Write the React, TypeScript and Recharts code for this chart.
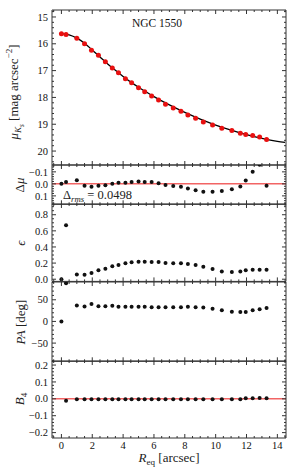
import React from 'react';
import { ComposedChart, Scatter, Line, XAxis, YAxis, ReferenceLine } from 'recharts';

// ---------- data ----------
const radius = [0, 0.3, 1.0, 1.5, 1.95, 2.4, 2.85, 3.3, 3.7, 4.15, 4.55, 5.0, 5.4, 5.85, 6.3, 6.75, 7.25, 7.75, 8.2, 8.7, 9.2, 9.8, 10.4, 11.05, 11.6, 11.95, 12.4, 12.85, 13.3];
const muObs = [15.63, 15.65, 15.79, 16.0, 16.24, 16.43, 16.67, 16.9, 17.08, 17.3, 17.45, 17.64, 17.79, 17.95, 18.1, 18.25, 18.39, 18.52, 18.66, 18.78, 18.92, 19.03, 19.15, 19.23, 19.34, 19.38, 19.42, 19.48, 19.57];
const deltaMu = [0.0, -0.015, -0.03, 0.015, 0.024, 0.015, 0.012, 0.0, -0.009, -0.009, -0.015, -0.02, -0.015, -0.015, -0.005, 0.009, 0.018, 0.024, 0.039, 0.054, 0.066, 0.066, 0.06, 0.045, 0.021, -0.027, -0.1, -0.16, 0.015];
const ellipticity = [0.0, 0.67, 0.06, 0.056, 0.077, 0.11, 0.13, 0.16, 0.177, 0.197, 0.21, 0.218, 0.218, 0.214, 0.214, 0.2, 0.197, 0.197, 0.19, 0.177, 0.155, 0.127, 0.097, 0.09, 0.097, 0.11, 0.118, 0.118, 0.118];
const posAngle = [0, 88, 37, 34.5, 40, 35, 35, 36, 34, 34, 34, 34, 34, 32.5, 32.5, 32.5, 32.5, 33, 34, 33, 32, 29, 26, 22.5, 21.5, 21.5, 26, 28, 31];
const b4 = [null, -0.012, -0.002, -0.002, -0.002, -0.002, -0.002, -0.002, -0.002, -0.002, -0.002, -0.002, -0.002, -0.002, -0.002, -0.002, -0.002, -0.002, -0.002, -0.002, -0.002, -0.002, -0.002, -0.002, -0.002, 0.003, 0.004, 0.005, 0.003];

const modelRadius = [0, 0.5, 1, 1.5, 2, 2.5, 3, 3.5, 4, 4.5, 5, 5.5, 6, 7, 8, 9, 10, 11, 12, 13, 14, 14.5];
const modelMu = [15.62, 15.67, 15.79, 15.98, 16.23, 16.49, 16.75, 16.99, 17.22, 17.43, 17.62, 17.8, 17.97, 18.28, 18.56, 18.81, 19.03, 19.22, 19.39, 19.53, 19.64, 19.68];

const xMajorTicks = [0, 2, 4, 6, 8, 10, 12, 14];
const muMajorTicks = [15, 16, 17, 18, 19, 20];
const dmuMajorTicks = [-0.1, 0, 0.1];
const epsMajorTicks = [0, 0.2, 0.4, 0.6, 0.8];
const paMajorTicks = [-50, 0, 50];
const b4MajorTicks = [-0.2, -0.1, 0, 0.1, 0.2];

const title = 'NGC 1550';
const rmsText = '0.0498';

// ---------- helpers ----------
const FONT = '"Liberation Serif", "Times New Roman", serif';
const TICK = '#333333';
const xDomain: [number, number] = [-0.61, 14.56];

function stepTicks(lo: number, hi: number, step: number): number[] {
  const out: number[] = [];
  const k0 = Math.ceil(lo / step - 1e-9);
  const k1 = Math.floor(hi / step + 1e-9);
  for (let k = k0; k <= k1; k++) out.push(Math.round(k * step * 1e6) / 1e6);
  return out;
}
const isMajor = (majors: number[], v: number) => majors.some((m) => Math.abs(m - v) < 1e-9);
const fmtMinus = (s: string) => s.replace('-', '\u2212');

function xTick(side: 'bottom' | 'top', labels: boolean) {
  return (props: any) => {
    const { x, y, payload } = props;
    const v = payload.value;
    const major = isMajor(xMajorTicks, v);
    const len = major ? 4 : 2;
    const dir = side === 'bottom' ? -1 : 1;
    return (
      <g>
        <line x1={x} y1={y} x2={x} y2={y + dir * len} stroke={TICK} strokeWidth={1} />
        {labels && major && (
          <text x={x} y={y + 11} textAnchor="middle" fontSize={10.5} style={{ fontFamily: FONT }} fill="#111">
            {String(v)}
          </text>
        )}
      </g>
    );
  };
}

function yTick(side: 'left' | 'right', majors: number[], fmt: (v: number) => string) {
  return (props: any) => {
    const { x, y, payload } = props;
    const v = payload.value;
    const major = isMajor(majors, v);
    const len = major ? 4 : 2;
    const dir = side === 'left' ? 1 : -1;
    return (
      <g>
        <line x1={x} y1={y} x2={x + dir * len} y2={y} stroke={TICK} strokeWidth={1} />
        {side === 'left' && major && (
          <text x={x - 4} y={y} dy="0.35em" textAnchor="end" fontSize={10.5} style={{ fontFamily: FONT }} fill="#111">
            {fmtMinus(fmt(v))}
          </text>
        )}
      </g>
    );
  };
}

type PanelProps = {
  top: number;
  height: number;
  domain: [number, number];
  reversed?: boolean;
  majors: number[];
  minorStep: number;
  fmt: (v: number) => string;
  xLabels?: boolean;
  children: React.ReactNode;
};

// top/height describe the plot frame; the chart is grown by 1px on each side
// so the top/bottom x-axes and right y-axis have a non-zero size.
function Panel({ top, height, domain, reversed, majors, minorStep, fmt, xLabels, children }: PanelProps) {
  const xTicks = stepTicks(xDomain[0], xDomain[1], 0.5);
  const yTicks = stepTicks(domain[0], domain[1], minorStep);
  return (
    <div style={{ position: 'absolute', left: 0, top: top - 1, width: 293, height: height + 2 }}>
      <ComposedChart width={293} height={height + 2} margin={{ top: 0, right: 6, bottom: 0, left: 0 }}>
        <XAxis xAxisId="b" dataKey="r" type="number" domain={xDomain} allowDataOverflow ticks={xTicks} interval={0}
          tickSize={0} tickMargin={0} height={1} tickLine={false} axisLine={{ stroke: TICK, strokeWidth: 1 }} stroke={TICK}
          tick={xTick('bottom', !!xLabels)} />
        <XAxis xAxisId="t" orientation="top" dataKey="r" type="number" domain={xDomain} allowDataOverflow ticks={xTicks} interval={0}
          tickSize={0} tickMargin={0} height={1} tickLine={false} axisLine={{ stroke: TICK, strokeWidth: 1 }} stroke={TICK}
          tick={xTick('top', false)} />
        <YAxis yAxisId="l" dataKey="v" type="number" domain={domain} reversed={reversed} allowDataOverflow ticks={yTicks} interval={0}
          width={52} tickSize={0} tickMargin={0} tickLine={false} axisLine={{ stroke: TICK, strokeWidth: 1 }} stroke={TICK}
          tick={yTick('left', majors, fmt)} />
        <YAxis yAxisId="r" orientation="right" dataKey="v" type="number" domain={domain} reversed={reversed} allowDataOverflow ticks={yTicks} interval={0}
          width={1} tickSize={0} tickMargin={0} tickLine={false} axisLine={{ stroke: TICK, strokeWidth: 1 }} stroke={TICK}
          tick={yTick('right', majors, fmt)} />
        {children}
      </ComposedChart>
    </div>
  );
}

const build = (vals: (number | null)[]) =>
  radius.map((r, i) => ({ r, v: vals[i] })).filter((d) => d.v !== null && d.v !== undefined);

const muData = build(muObs);
const dmuData = build(deltaMu);
const epsData = build(ellipticity);
const paData = build(posAngle);
const b4Data = build(b4);
const modelData = modelRadius.map((r, i) => ({ r, v: modelMu[i] }));

const blackDot = (p: any) => <circle cx={p.cx} cy={p.cy} r={2} fill="#111" />;
const redDot = (p: any) => <circle cx={p.cx} cy={p.cy} r={2.5} fill="#e81010" />;
const ZERO_COLOR = '#f26464';

const labelStyle: React.CSSProperties = {
  position: 'absolute',
  transform: 'translate(-50%, -50%) rotate(-90deg)',
  whiteSpace: 'nowrap',
  fontFamily: FONT,
  color: '#222',
  lineHeight: 1,
};

export default function App() {
  return (
    <div style={{ position: 'absolute', left: 0, top: 0, width: 293, height: 471, background: '#fff', fontFamily: FONT }}>
      <style>{'.recharts-surface{overflow:visible}'}</style>

      <Panel top={10} height={155} domain={[14.74, 20.52]} reversed majors={muMajorTicks} minorStep={0.2} fmt={(v) => v.toFixed(0)}>
        <Scatter xAxisId="b" yAxisId="l" data={muData} dataKey="v" shape={redDot} isAnimationActive={false} />
        <Line xAxisId="b" yAxisId="l" data={modelData} dataKey="v" type="monotone" dot={false} stroke="#000" strokeWidth={1.3} isAnimationActive={false} />
      </Panel>

      <Panel top={165} height={39.3} domain={[-0.157, 0.17]} reversed majors={dmuMajorTicks} minorStep={0.02} fmt={(v) => v.toFixed(1)}>
        <ReferenceLine xAxisId="b" yAxisId="l" y={0} stroke={ZERO_COLOR} strokeWidth={1.5} />
        <Scatter xAxisId="b" yAxisId="l" data={dmuData} dataKey="v" shape={blackDot} isAnimationActive={false} />
      </Panel>

      <Panel top={204.3} height={77.4} domain={[-0.027, 0.933]} majors={epsMajorTicks} minorStep={0.05} fmt={(v) => v.toFixed(1)}>
        <Scatter xAxisId="b" yAxisId="l" data={epsData} dataKey="v" shape={blackDot} isAnimationActive={false} />
      </Panel>

      <Panel top={281.7} height={79.3} domain={[-92, 91]} majors={paMajorTicks} minorStep={10} fmt={(v) => v.toFixed(0)}>
        <Scatter xAxisId="b" yAxisId="l" data={paData} dataKey="v" shape={blackDot} isAnimationActive={false} />
      </Panel>

      <Panel top={361} height={77} domain={[-0.232, 0.224]} majors={b4MajorTicks} minorStep={0.02} fmt={(v) => v.toFixed(1)} xLabels>
        <ReferenceLine xAxisId="b" yAxisId="l" y={0} stroke={ZERO_COLOR} strokeWidth={1.5} />
        <Scatter xAxisId="b" yAxisId="l" data={b4Data} dataKey="v" shape={blackDot} isAnimationActive={false} />
      </Panel>

      {/* annotations */}
      <div style={{ position: 'absolute', left: 157, top: 23, transform: 'translate(-50%, -50%)', fontSize: 11.5, fontFamily: FONT, whiteSpace: 'nowrap', color: '#111' }}>
        {title}
      </div>
      <div style={{ position: 'absolute', left: 63, top: 195, transform: 'translate(0, -50%)', fontSize: 12.5, fontFamily: FONT, whiteSpace: 'nowrap', color: '#222', lineHeight: 1 }}>
        {'\u0394'}<sub style={{ fontSize: '0.7em', fontStyle: 'italic', lineHeight: 0 }}>rms</sub> = {rmsText}
      </div>

      {/* axis titles */}
      <div style={{ ...labelStyle, left: 16, top: 92, fontSize: 13 }}>
        <i>{'\u03bc'}</i>
        <sub style={{ fontSize: '0.7em' }}><i>K</i><sub style={{ fontSize: '0.8em' }}><i>s</i></sub></sub>
        {' [mag arcsec'}<sup style={{ fontSize: '0.7em' }}>{'\u22122'}</sup>{']'}
      </div>
      <div style={{ ...labelStyle, left: 19, top: 185, fontSize: 13 }}>
        {'\u0394'}<i>{'\u03bc'}</i>
      </div>
      <div style={{ ...labelStyle, left: 20, top: 243, fontSize: 13 }}>
        <i>{'\u03f5'}</i>
      </div>
      <div style={{ ...labelStyle, left: 20, top: 322, fontSize: 13 }}>
        <i>PA</i> [deg]
      </div>
      <div style={{ ...labelStyle, left: 21, top: 399, fontSize: 13 }}>
        <i>B</i><sub style={{ fontSize: '0.7em' }}>4</sub>
      </div>
      <div style={{ position: 'absolute', left: 169, top: 459, transform: 'translate(-50%, -50%)', fontSize: 13, fontFamily: FONT, whiteSpace: 'nowrap', color: '#222', lineHeight: 1 }}>
        <i>R</i><sub style={{ fontSize: '0.7em' }}>eq</sub> [arcsec]
      </div>
    </div>
  );
}
